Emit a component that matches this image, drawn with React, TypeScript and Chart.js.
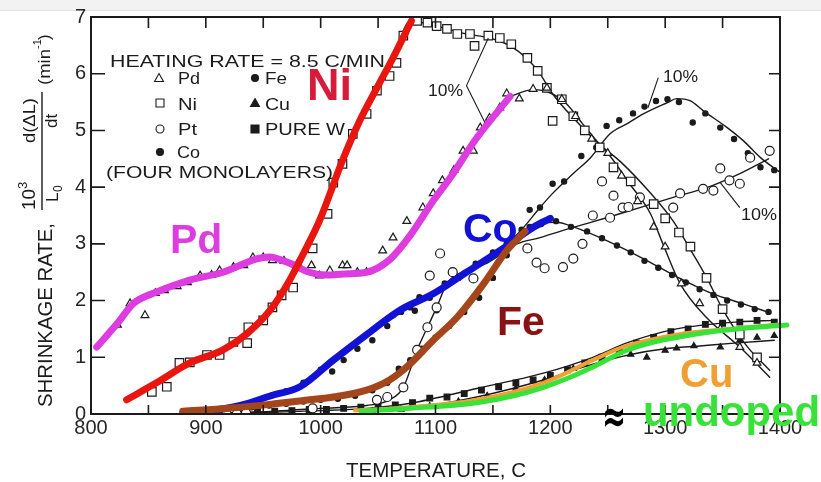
import React, { useEffect, useRef } from "react";
import { Chart, registerables } from "chart.js";

Chart.register(...registerables);

const FONT = "'Liberation Sans', Arial, sans-serif";

// ---------- axes ----------
const xMin = 800;
const xMax = 1400;
const xMarkStep = 50;
const yMin = 0;
const yMax = 7;
const xTickLabels = ["800", "900", "1000", "1100", "1200", "1300", "1400"];
const yTickLabels = ["0", "1", "2", "3", "4", "5", "6", "7"];

// ---------- thick coloured overlay curves ----------
const pdT = [805, 823, 837, 857, 886, 915, 945, 955, 973, 990, 1005, 1020, 1040, 1060, 1078, 1098, 1113, 1136, 1165];
const pdV = [1.18, 1.6, 1.95, 2.15, 2.36, 2.5, 2.74, 2.77, 2.66, 2.5, 2.45, 2.47, 2.5, 2.72, 3.15, 3.76, 4.17, 4.87, 5.6];

const niT = [831, 857, 886, 915, 936, 956, 973, 985, 999, 1019, 1034, 1049, 1063, 1079];
const niV = [0.25, 0.55, 0.9, 1.13, 1.42, 1.83, 2.36, 2.83, 3.41, 4.47, 5.17, 5.75, 6.28, 6.93];

const coT = [880, 900, 930, 958, 982, 1011, 1040, 1069, 1098, 1127, 1156, 1185, 1200];
const coV = [0.02, 0.05, 0.15, 0.33, 0.48, 0.95, 1.4, 1.83, 2.12, 2.5, 2.88, 3.29, 3.45];

const feT = [880, 920, 960, 990, 1011, 1040, 1060, 1075, 1098, 1119, 1142, 1162, 1178];
const feV = [0.05, 0.1, 0.18, 0.25, 0.3, 0.42, 0.6, 0.83, 1.3, 1.71, 2.3, 2.88, 3.22];

const cuT = [1030, 1078, 1136, 1194, 1237, 1266, 1310, 1368, 1400];
const cuV = [0.06, 0.12, 0.25, 0.55, 0.95, 1.2, 1.4, 1.52, 1.58];

const undopedT = [1035, 1078, 1136, 1170, 1194, 1215, 1237, 1266, 1290, 1310, 1340, 1368, 1406];
const undopedV = [0.05, 0.1, 0.2, 0.33, 0.47, 0.63, 0.83, 1.12, 1.27, 1.35, 1.45, 1.51, 1.57];

// ---------- thin black fitted curves ----------
const niBlackT = [831, 857, 886, 915, 936, 956, 973, 985, 999, 1019, 1034, 1049, 1063, 1078, 1101, 1127, 1147, 1165, 1180, 1191, 1200, 1214, 1228, 1243, 1261, 1287, 1307, 1322, 1336, 1350, 1371, 1391];
const niBlackV = [0.25, 0.55, 0.9, 1.13, 1.42, 1.83, 2.36, 2.83, 3.41, 4.47, 5.17, 5.75, 6.28, 6.93, 6.84, 6.7, 6.63, 6.49, 6.26, 6.0, 5.7, 5.35, 5.05, 4.75, 4.45, 3.9, 3.4, 2.9, 2.41, 1.85, 1.2, 0.77];

const pdBlackT = [1165, 1185, 1200, 1214, 1228, 1241, 1252, 1269, 1287, 1298, 1313, 1336, 1365, 1391];
const pdBlackV = [5.6, 5.72, 5.66, 5.47, 5.12, 4.8, 4.55, 4.06, 3.54, 3.0, 2.3, 1.7, 1.18, 0.65];

const coBlackT = [880, 900, 930, 958, 982, 1011, 1040, 1069, 1098, 1127, 1156, 1175, 1191, 1202, 1220, 1235, 1252, 1267, 1281, 1302, 1310, 1322, 1333, 1354, 1368, 1383, 1400];
const coBlackV = [0.02, 0.05, 0.15, 0.33, 0.48, 0.95, 1.4, 1.83, 2.12, 2.5, 2.88, 3.25, 3.64, 3.89, 4.24, 4.52, 4.94, 5.12, 5.29, 5.49, 5.56, 5.52, 5.35, 5.05, 4.82, 4.52, 4.26];

const feBlackT = [880, 920, 960, 990, 1011, 1040, 1060, 1075, 1098, 1119, 1142, 1162, 1178, 1191, 1205, 1220, 1250, 1280, 1310, 1340, 1370, 1392];
const feBlackV = [0.05, 0.1, 0.18, 0.25, 0.3, 0.42, 0.6, 0.83, 1.3, 1.71, 2.3, 2.88, 3.22, 3.36, 3.38, 3.3, 3.05, 2.75, 2.42, 2.13, 1.93, 1.78];

const ptBlackT = [880, 920, 960, 1000, 1040, 1060, 1072, 1084, 1093, 1101, 1110, 1127, 1145, 1171, 1191, 1220, 1249, 1278, 1307, 1336, 1365, 1390];
const ptBlackV = [0.0, 0.02, 0.05, 0.1, 0.15, 0.25, 0.47, 1.13, 1.53, 1.88, 2.3, 2.53, 2.66, 3.0, 3.11, 3.29, 3.46, 3.64, 3.82, 3.99, 4.24, 4.5];

const wBlackT = [880, 950, 1000, 1040, 1078, 1136, 1194, 1237, 1266, 1310, 1368, 1395];
const wBlackV = [0.0, 0.03, 0.06, 0.1, 0.19, 0.45, 0.72, 1.0, 1.25, 1.5, 1.63, 1.65];

const cuBlackT = [1040, 1078, 1136, 1194, 1237, 1270, 1300, 1330, 1360, 1395];
const cuBlackV = [0.05, 0.1, 0.3, 0.6, 0.88, 1.05, 1.15, 1.2, 1.25, 1.3];

// ---------- measured points ----------
const pdPtsT = [823, 834, 847, 856, 864, 875, 884, 895, 905, 912, 924, 933, 941, 950, 958, 968, 980, 992, 999, 1008, 1019, 1023, 1032, 1040, 1054, 1063, 1075, 1089, 1098, 1106, 1116, 1124, 1133, 1139, 1147, 1156, 1162, 1173, 1185, 1197, 1210, 1222, 1236, 1250, 1262, 1276, 1290, 1300, 1314, 1330, 1348, 1365, 1380];
const pdPtsV = [1.57, 1.95, 1.74, 2.13, 2.18, 2.25, 2.32, 2.44, 2.45, 2.53, 2.59, 2.62, 2.76, 2.76, 2.71, 2.7, 2.66, 2.62, 2.44, 2.53, 2.62, 2.62, 2.5, 2.5, 2.88, 3.11, 3.4, 3.64, 3.89, 4.12, 4.3, 4.64, 4.64, 5.05, 5.22, 5.4, 5.65, 5.56, 5.73, 5.75, 5.55, 5.25, 4.85, 4.6, 4.2, 3.75, 3.3, 2.95, 2.3, 1.95, 1.5, 1.18, 0.9];

const niPtsT = [853, 866, 877, 886, 901, 912, 924, 936, 937, 950, 958, 966, 976, 993, 1006, 1011, 1019, 1028, 1040, 1049, 1060, 1066, 1072, 1084, 1093, 1101, 1110, 1119, 1130, 1134, 1146, 1156, 1166, 1180, 1189, 1197, 1202, 1210, 1220, 1230, 1243, 1255, 1270, 1290, 1300, 1312, 1322, 1336, 1350, 1365, 1380];
const niPtsV = [0.39, 0.48, 0.9, 0.91, 1.04, 1.04, 1.27, 1.25, 1.53, 1.65, 1.88, 2.09, 2.23, 2.92, 3.53, 4.08, 4.41, 4.94, 5.29, 5.7, 5.96, 6.19, 6.67, 6.93, 6.9, 6.84, 6.79, 6.7, 6.7, 6.49, 6.67, 6.63, 6.52, 6.28, 6.05, 5.75, 5.17, 5.55, 5.25, 5.0, 4.7, 4.35, 4.1, 3.7, 3.45, 3.2, 2.95, 2.4, 1.85, 1.4, 1.0];

const ptPtsT = [918, 927, 935, 993, 1049, 1058, 1072, 1084, 1093, 1101, 1095, 1104, 1115, 1133, 1180, 1188, 1195, 1211, 1220, 1228, 1237, 1252, 1263, 1278, 1307, 1313, 1333, 1342, 1348, 1356, 1365, 1374, 1391, 1245, 1255, 1268];
const ptPtsV = [0.0, 0.0, 0.02, 0.1, 0.25, 0.3, 0.47, 1.13, 1.53, 1.88, 2.44, 2.83, 2.5, 2.39, 2.92, 2.67, 2.57, 2.59, 2.74, 3.0, 3.5, 3.46, 3.64, 3.82, 3.64, 3.89, 3.97, 3.94, 4.33, 4.12, 4.06, 4.52, 4.64, 4.1, 3.85, 3.65];

const coPtsT = [885, 900, 915, 930, 945, 958, 970, 985, 1000, 1010, 1020, 1032, 1045, 1058, 1063, 1078, 1086, 1101, 1070, 1082, 1095, 1108, 1120, 1135, 1150, 1162, 1175, 1182, 1191, 1202, 1212, 1227, 1240, 1249, 1260, 1272, 1282, 1292, 1302, 1312, 1324, 1335, 1348, 1360, 1372, 1383, 1395];
const coPtsV = [0.03, 0.05, 0.08, 0.13, 0.2, 0.33, 0.4, 0.55, 0.78, 0.75, 0.95, 1.15, 1.3, 1.55, 1.74, 1.88, 2.06, 1.83, 1.8, 1.82, 2.05, 2.3, 2.4, 2.65, 2.85, 3.0, 3.25, 3.6, 3.64, 4.06, 4.1, 4.55, 4.7, 5.08, 5.18, 5.3, 5.42, 5.52, 5.55, 5.5, 5.14, 5.3, 5.05, 4.85, 4.6, 4.35, 4.3];

const fePtsT = [880, 895, 910, 925, 940, 955, 970, 985, 1000, 1015, 1030, 1045, 1058, 1068, 1078, 1088, 1100, 1112, 1125, 1138, 1150, 1162, 1172, 1182, 1192, 1205, 1218, 1232, 1245, 1258, 1270, 1282, 1294, 1306, 1318, 1330, 1342, 1354, 1366, 1378, 1390];
const fePtsV = [0.05, 0.06, 0.08, 0.1, 0.12, 0.15, 0.18, 0.22, 0.25, 0.27, 0.32, 0.42, 0.55, 0.8, 0.95, 1.15, 1.35, 1.55, 1.8, 2.05, 2.4, 2.8, 3.1, 3.3, 3.35, 3.4, 3.3, 3.22, 3.1, 2.97, 2.85, 2.7, 2.58, 2.45, 2.32, 2.2, 2.1, 2.0, 1.93, 1.85, 1.8];

const wPtsT = [885, 900, 915, 930, 945, 960, 975, 990, 1005, 1020, 1035, 1050, 1065, 1080, 1095, 1110, 1125, 1140, 1155, 1170, 1185, 1200, 1215, 1230, 1245, 1260, 1275, 1290, 1305, 1320, 1335, 1350, 1365, 1380, 1395];
const wPtsV = [0.0, 0.02, 0.03, 0.03, 0.05, 0.05, 0.06, 0.08, 0.08, 0.1, 0.12, 0.14, 0.16, 0.2, 0.28, 0.3, 0.36, 0.42, 0.48, 0.55, 0.6, 0.68, 0.78, 0.9, 1.0, 1.1, 1.25, 1.35, 1.45, 1.5, 1.58, 1.6, 1.62, 1.65, 1.62];

const cuPtsT = [1045, 1070, 1095, 1120, 1145, 1170, 1195, 1220, 1245, 1270, 1284, 1300, 1310, 1325, 1348, 1365, 1380, 1395];
const cuPtsV = [0.05, 0.08, 0.14, 0.22, 0.32, 0.45, 0.6, 0.8, 0.95, 1.05, 1.0, 1.12, 1.16, 1.2, 1.18, 1.3, 1.35, 1.38];

// ---------- "10%" annotations (data coords) ----------
const pct1Path = [[1146, 6.63], [1127, 5.79], [1143, 5.14]];
const pct2Path = [[1294, 5.93], [1285, 5.4]];
const pct3Path = [[1348, 4.08], [1365, 3.64]];

// ---------- colours ----------
const BLACK = "#1b1b1b";
const C_PD = "#dc3ce0";
const C_NI = "#e8160e";
const C_NI_TXT = "#d61c3a";
const C_CO = "#1212d6";
const C_FE = "#a4461c";
const C_FE_TXT = "#8a1212";
const C_CU = "#f0a032";
const C_UN = "#38e238";

const zip = (t: number[], v: number[]) => t.map((x, i) => ({ x, y: v[i] }));

const curve = (label: string, t: number[], v: number[], color: string, width: number, order: number, extra: any = {}) => ({
  type: "line",
  label,
  data: zip(t, v),
  borderColor: color,
  backgroundColor: color,
  borderWidth: width,
  pointRadius: 0,
  fill: false,
  cubicInterpolationMode: "monotone",
  borderCapStyle: "round",
  borderJoinStyle: "round",
  order,
  ...extra,
});

const marks = (label: string, t: number[], v: number[], style: string, radius: number, filled: boolean, order: number) => ({
  type: "line",
  label,
  data: zip(t, v),
  showLine: false,
  pointStyle: style,
  pointRadius: radius,
  pointBackgroundColor: filled ? BLACK : "#ffffff",
  pointBorderColor: BLACK,
  pointBorderWidth: 1.2,
  order,
});

function stretchText(c: CanvasRenderingContext2D, s: string, x: number, y: number, font: string, color: string, width?: number, align: "left" | "center" = "left") {
  c.save();
  c.font = font;
  c.fillStyle = color;
  c.textBaseline = "alphabetic";
  c.textAlign = "left";
  const w = c.measureText(s).width;
  const sx = width ? width / w : 1;
  const x0 = align === "center" ? x - (w * sx) / 2 : x;
  c.translate(x0, y);
  c.scale(sx, 1);
  c.fillText(s, 0, 0);
  c.restore();
}

function vText(c: CanvasRenderingContext2D, s: string, cx: number, bottom: number, font: string, width?: number) {
  c.save();
  c.font = font;
  c.fillStyle = BLACK;
  c.textBaseline = "middle";
  c.textAlign = "left";
  const w = c.measureText(s).width;
  const sx = width ? width / w : 1;
  c.translate(cx, bottom);
  c.rotate(-Math.PI / 2);
  c.scale(sx, 1);
  c.fillText(s, 0, 0);
  c.restore();
}

function symbol(c: CanvasRenderingContext2D, kind: string, x: number, y: number, filled: boolean) {
  c.save();
  c.strokeStyle = BLACK;
  c.fillStyle = filled ? BLACK : "#fff";
  c.lineWidth = 1.1;
  c.beginPath();
  if (kind === "tri") {
    c.moveTo(x, y - 4.5);
    c.lineTo(x + 4.5, y + 3.5);
    c.lineTo(x - 4.5, y + 3.5);
    c.closePath();
  } else if (kind === "sq") {
    c.rect(x - 4, y - 4, 8, 8);
  } else {
    c.arc(x, y, filled ? 3.5 : 4, 0, Math.PI * 2);
  }
  c.fill();
  c.stroke();
  c.restore();
}

const overlay = {
  id: "overlay",
  beforeDraw(chart: any) {
    const c = chart.ctx as CanvasRenderingContext2D;
    c.save();
    c.fillStyle = "#ffffff";
    c.fillRect(0, 0, chart.width, chart.height);
    c.fillStyle = "#f2f2f2";
    c.fillRect(0, 0, chart.width, 10);
    c.fillStyle = "#e2e2e2";
    c.fillRect(0, 10, chart.width, 1);
    c.restore();
  },
  afterDraw(chart: any) {
    const c = chart.ctx as CanvasRenderingContext2D;
    const xs = chart.scales.x;
    const ys = chart.scales.y;
    const a = chart.chartArea;
    const X = (v: number) => xs.getPixelForValue(v);
    const Y = (v: number) => ys.getPixelForValue(v);

    c.save();
    // frame
    c.strokeStyle = BLACK;
    c.lineWidth = 2;
    c.strokeRect(a.left, a.top, a.right - a.left, a.bottom - a.top);
    // inward tick marks
    c.lineWidth = 1.6;
    c.beginPath();
    for (let t = xMin + xMarkStep; t < xMax; t += xMarkStep) {
      const px = X(t);
      c.moveTo(px, a.bottom);
      c.lineTo(px, a.bottom - 9);
      c.moveTo(px, a.top);
      c.lineTo(px, a.top + 11);
    }
    for (let v = yMin + 1; v < yMax; v++) {
      const py = Y(v);
      c.moveTo(a.left, py);
      c.lineTo(a.left + 14, py);
      c.moveTo(a.right, py);
      c.lineTo(a.right - 11, py);
    }
    c.stroke();

    // 10% leader lines
    c.lineWidth = 1.1;
    for (const path of [pct1Path, pct2Path, pct3Path]) {
      c.beginPath();
      path.forEach(([t, v], i) => (i ? c.lineTo(X(t), Y(v)) : c.moveTo(X(t), Y(v))));
      c.stroke();
    }
    c.restore();

    const f16 = `16px ${FONT}`;
    stretchText(c, "10%", 428, 96, f16, BLACK, 35);
    stretchText(c, "10%", 663, 82, f16, BLACK, 35);
    stretchText(c, "10%", 741, 220, f16, BLACK, 36);

    // legend block
    stretchText(c, "HEATING RATE = 8.5 C/MIN", 110, 67, `17px ${FONT}`, BLACK, 275);
    symbol(c, "tri", 159, 78, false);
    stretchText(c, "Pd", 178, 84, f16, BLACK, 22);
    symbol(c, "sq", 160, 103, false);
    stretchText(c, "Ni", 178, 110, f16, BLACK, 19);
    symbol(c, "ci", 160, 129, false);
    stretchText(c, "Pt", 178, 135, f16, BLACK, 19);
    symbol(c, "ci", 160, 152, true);
    stretchText(c, "Co", 177, 158, f16, BLACK, 23);
    stretchText(c, "(FOUR MONOLAYERS)", 106, 178, f16, BLACK, 227);
    symbol(c, "ci", 255, 78, true);
    stretchText(c, "Fe", 265, 84, f16, BLACK, 22);
    symbol(c, "tri", 255, 103, true);
    stretchText(c, "Cu", 265, 110, f16, BLACK, 25);
    symbol(c, "sq", 255, 129, true);
    stretchText(c, "PURE W", 265, 135, f16, BLACK, 80);

    // y axis title
    vText(c, "SHRINKAGE RATE,", 46, 407, `20px ${FONT}`, 184);
    vText(c, "10", 30, 210, `19px ${FONT}`);
    vText(c, "3", 23, 189, `13px ${FONT}`);
    vText(c, "L", 53, 202, `17px ${FONT}`);
    vText(c, "0", 59, 192, `12px ${FONT}`);
    vText(c, "d(\u0394L)", 30, 143, `17px ${FONT}`, 45);
    vText(c, "dt", 52, 128, `17px ${FONT}`);
    vText(c, "(min", 45, 85, `17px ${FONT}`, 36);
    vText(c, "-1", 38, 49, `11px ${FONT}`);
    vText(c, ")", 45, 40, `17px ${FONT}`);
    c.save();
    c.strokeStyle = BLACK;
    c.lineWidth = 1.4;
    c.beginPath();
    c.moveTo(42, 92);
    c.lineTo(42, 210);
    c.stroke();
    c.restore();

    // x axis title
    stretchText(c, "TEMPERATURE, C", 346, 477, `20px ${FONT}`, BLACK, 180);

    // coloured labels
    const bold = (s: number) => `bold ${s}px ${FONT}`;
    stretchText(c, "Ni", 307, 100, bold(45), C_NI_TXT);
    stretchText(c, "Pd", 170, 253, bold(41), C_PD);
    stretchText(c, "Co", 463, 242, bold(41), C_CO);
    stretchText(c, "Fe", 497, 335, bold(41), C_FE_TXT);
    stretchText(c, "Cu", 680, 387, bold(40), C_CU);
    stretchText(c, "\u2248", 602, 432, `bold 46px 'DejaVu Sans', sans-serif`, "#000", 24);
    stretchText(c, "undoped", 643, 426, bold(42), C_UN, 177);
  },
};

export default function App() {
  const ref = useRef<HTMLCanvasElement>(null);

  useEffect(() => {
    document.body.style.margin = "0";
    const canvas = ref.current;
    if (!canvas) return;

    const datasets: any[] = [
      // coloured overlays (lower order = drawn on top)
      curve("Ni (overlay)", niT, niV, C_NI, 7, 1),
      curve("Pd (overlay)", pdT, pdV, C_PD, 7, 2),
      curve("Fe (overlay)", feT, feV, C_FE, 7, 3),
      curve("Co (overlay)", coT, coV, C_CO, 7, 4),
      curve("undoped", undopedT, undopedV, C_UN, 5, 5, { clip: 12 }),
      curve("Cu (overlay)", cuT, cuV, C_CU, 4, 6),
      // measured points
      marks("Pd", pdPtsT, pdPtsV, "triangle", 4.5, false, 20),
      marks("Ni", niPtsT, niPtsV, "rect", 6, false, 20),
      marks("Pt", ptPtsT, ptPtsV, "circle", 4.5, false, 20),
      marks("Co", coPtsT, coPtsV, "circle", 2.6, true, 20),
      marks("Fe", fePtsT, fePtsV, "circle", 2.6, true, 20),
      marks("Pure W", wPtsT, wPtsV, "rect", 4, true, 20),
      marks("Cu", cuPtsT, cuPtsV, "triangle", 3.5, true, 20),
      // thin black fits
      curve("Ni fit", niBlackT, niBlackV, BLACK, 1.4, 30),
      curve("Pd fit", pdBlackT, pdBlackV, BLACK, 1.4, 30),
      curve("Co fit", coBlackT, coBlackV, BLACK, 1.4, 30),
      curve("Fe fit", feBlackT, feBlackV, BLACK, 1.4, 30),
      curve("Pt fit", ptBlackT, ptBlackV, BLACK, 1.4, 30),
      curve("W fit", wBlackT, wBlackV, BLACK, 1.4, 30),
      curve("Cu fit", cuBlackT, cuBlackV, BLACK, 1.4, 30),
    ];

    const chart = new Chart(canvas, {
      type: "line",
      data: { datasets },
      options: {
        responsive: false,
        animation: false,
        devicePixelRatio: 1,
        layout: { padding: { top: 16, right: 41, left: 0, bottom: 0 } },
        plugins: { legend: { display: false }, tooltip: { enabled: false }, title: { display: false } },
        events: [],
        scales: {
          x: {
            type: "linear",
            min: xMin,
            max: xMax,
            afterFit: (s: any) => {
              s.height = 68;
            },
            grid: { display: false, drawTicks: false },
            border: { display: false },
            ticks: {
              stepSize: 100,
              autoSkip: false,
              maxRotation: 0,
              padding: 2,
              color: "#262626",
              font: { family: FONT, size: 20 },
              callback: (v: any) => xTickLabels[Math.round((Number(v) - xMin) / 100)] ?? "",
            },
          },
          y: {
            type: "linear",
            min: yMin,
            max: yMax,
            afterFit: (s: any) => {
              s.width = 91;
            },
            grid: { display: false, drawTicks: false },
            border: { display: false },
            ticks: {
              stepSize: 1,
              autoSkip: false,
              padding: 5,
              color: "#262626",
              font: { family: FONT, size: 20 },
              callback: (v: any) => yTickLabels[Math.round(Number(v))] ?? "",
            },
          },
        },
      } as any,
      plugins: [overlay],
    } as any);

    return () => chart.destroy();
  }, []);

  return (
    <div style={{ position: "absolute", left: 0, top: 0, width: 821, height: 482 }}>
      <canvas ref={ref} width={821} height={482} style={{ display: "block", width: 821, height: 482 }} />
    </div>
  );
}
